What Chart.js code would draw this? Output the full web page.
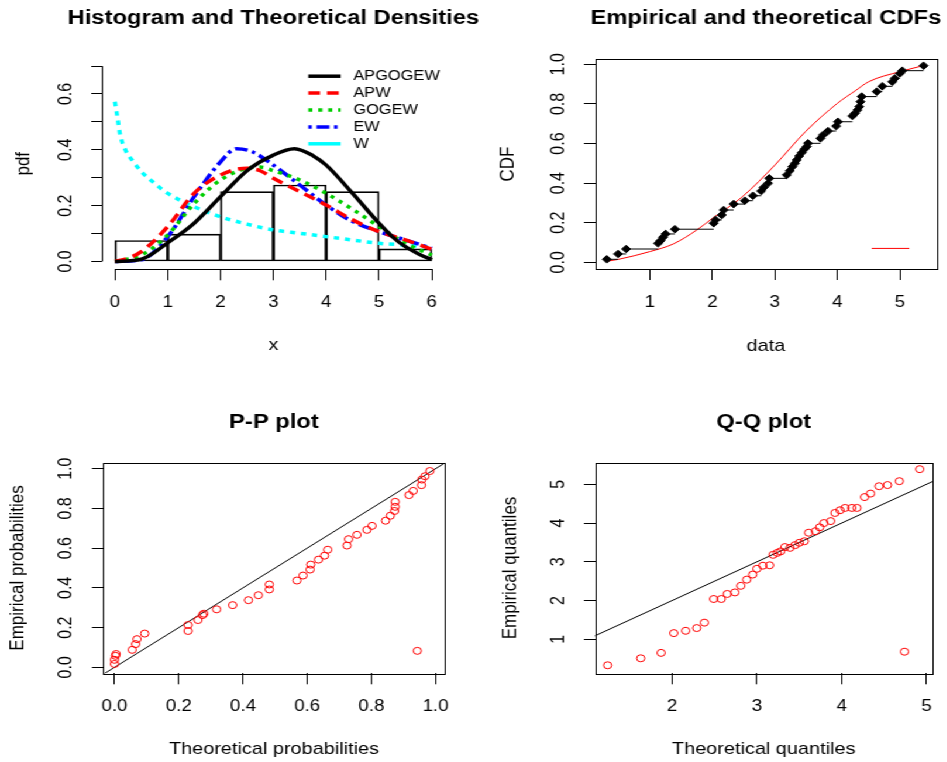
<!DOCTYPE html>
<html>
<head>
<meta charset="utf-8">
<title>Densities, CDFs, P-P and Q-Q plots</title>
<script src="https://cdn.jsdelivr.net/npm/chart.js@4.4.1/dist/chart.umd.min.js"></script>
<style>
  body { margin: 0; background: #fff; overflow: hidden; }
  /* the original R device output is a little wider than tall, so the whole sheet is stretched sideways */
  #page { position: relative; width: 809px; height: 762px; transform: scaleX(1.17); transform-origin: 0 0; }
  canvas { position: absolute; }
</style>
</head>
<body>
<div id="page">
  <canvas id="cdfChart" width="405" height="381" style="left:404px;top:0"></canvas>
  <canvas id="histChart" width="420" height="381" style="left:0;top:0"></canvas>
  <canvas id="ppChart" width="404" height="381" style="left:0;top:381px"></canvas>
  <canvas id="qqChart" width="405" height="381" style="left:404px;top:381px"></canvas>
</div>
<script>
// ---- histogram (density scale, bins of width 1) ----
const histMids = [0.5, 1.5, 2.5, 3.5, 4.5, 5.5];
const histDensity = [0.075, 0.098, 0.25, 0.274, 0.25, 0.045];

// ---- fitted densities ----
const apgogewX = [0, 0.5, 1, 1.5, 2, 2.5, 3, 3.4, 3.75, 4, 4.5, 5, 5.25, 5.5, 5.75, 6];
const apgogewY = [0, 0.008, 0.067, 0.137, 0.232, 0.325, 0.381, 0.404, 0.379, 0.345, 0.244, 0.137, 0.089, 0.053, 0.027, 0.006];
const apwX = [0, 0.25, 0.5, 1, 1.5, 2, 2.5, 2.75, 3, 3.5, 4, 4.5, 5, 5.5, 6];
const apwY = [0, 0.012, 0.035, 0.125, 0.244, 0.31, 0.334, 0.325, 0.298, 0.25, 0.202, 0.149, 0.107, 0.077, 0.044];
const gogewX = [0, 0.5, 1, 1.5, 2, 2.5, 2.75, 3, 3.5, 4, 4.5, 5, 5.5, 6];
const gogewY = [0, 0.023, 0.095, 0.208, 0.292, 0.334, 0.338, 0.325, 0.292, 0.244, 0.187, 0.125, 0.065, 0.023];
const ewX = [0, 0.5, 1, 1.5, 2, 2.3, 2.6, 3, 3.5, 4, 4.5, 5, 5.5, 6];
const ewY = [0, 0.006, 0.089, 0.232, 0.357, 0.404, 0.393, 0.345, 0.274, 0.202, 0.143, 0.107, 0.077, 0.047];
const wX = [0, 0.05, 0.1, 0.2, 0.35, 0.5, 0.75, 1, 1.5, 2, 2.5, 3, 3.5, 4, 4.5, 5, 5.5, 6];
const wY = [0.572, 0.513, 0.453, 0.399, 0.357, 0.322, 0.28, 0.244, 0.196, 0.16, 0.134, 0.113, 0.101, 0.089, 0.077, 0.065, 0.059, 0.051];

// ---- empirical CDF points ----
const cdfX = [0.31, 0.49, 0.62, 1.13, 1.17, 1.21, 1.25, 1.4, 2.02, 2.05, 2.15, 2.18, 2.34, 2.52, 2.65, 2.78, 2.82, 2.89, 2.91,
  3.19, 3.24, 3.28, 3.32, 3.35, 3.39, 3.43, 3.47, 3.51, 3.53, 3.73, 3.77, 3.85, 3.98, 4.01, 4.24, 4.28, 4.32, 4.35, 4.37, 4.39,
  4.63, 4.72, 4.88, 4.92, 5.0, 5.04, 5.38];
const cdfY = [0.015, 0.042, 0.067, 0.096, 0.109, 0.126, 0.143, 0.167, 0.197, 0.214, 0.239, 0.264, 0.294, 0.311, 0.336, 0.36, 0.378, 0.399, 0.424,
  0.441, 0.463, 0.483, 0.5, 0.517, 0.537, 0.554, 0.571, 0.584, 0.601, 0.626, 0.643, 0.663, 0.688, 0.71, 0.739, 0.752, 0.769, 0.786, 0.811, 0.837,
  0.862, 0.889, 0.912, 0.929, 0.954, 0.968, 0.993];
// theoretical CDF (red)
const theoX = [0.33, 0.5, 1, 1.37, 1.75, 2, 2.48, 3, 3.49, 4, 4.29, 4.5, 5, 5.37];
const theoY = [0.006, 0.015, 0.054, 0.092, 0.163, 0.222, 0.331, 0.491, 0.66, 0.803, 0.867, 0.912, 0.963, 0.993];
// short red legend stroke in the lower right corner
const cdfKeyX = [4.55, 5.15];
const cdfKeyY = [0.07, 0.07];

// ---- P-P plot ----
const ppX = [0.0, 0.0, 0.003, 0.005, 0.055, 0.066, 0.07, 0.094, 0.229, 0.229, 0.26, 0.274, 0.278, 0.318, 0.368, 0.417, 0.448, 0.482, 0.482,
  0.568, 0.587, 0.609, 0.611, 0.635, 0.654, 0.664, 0.724, 0.729, 0.755, 0.786, 0.802, 0.844, 0.859, 0.872, 0.874, 0.874, 0.917, 0.93,
  0.956, 0.957, 0.967, 0.982, 0.943];
const ppY = [0.017, 0.038, 0.058, 0.067, 0.088, 0.117, 0.142, 0.17, 0.183, 0.213, 0.238, 0.263, 0.27, 0.292, 0.313, 0.338, 0.363, 0.392, 0.417,
  0.437, 0.462, 0.492, 0.517, 0.542, 0.562, 0.592, 0.613, 0.645, 0.667, 0.692, 0.712, 0.738, 0.763, 0.787, 0.808, 0.833, 0.867, 0.888,
  0.917, 0.945, 0.962, 0.988, 0.083];

// ---- Q-Q plot ----
const qqX = [1.24, 1.63, 1.87, 2.02, 2.16, 2.29, 2.38, 2.49, 2.58, 2.65, 2.74, 2.81, 2.88, 2.95, 3.0, 3.07, 3.15, 3.19, 3.24, 3.28, 3.33,
  3.39, 3.45, 3.5, 3.56, 3.61, 3.69, 3.74, 3.79, 3.87, 3.92, 3.98, 4.04, 4.12, 4.18, 4.27, 4.34, 4.44, 4.54, 4.68, 4.92, 4.74];
const qqY = [0.33, 0.51, 0.65, 1.16, 1.22, 1.29, 1.43, 2.04, 2.04, 2.17, 2.21, 2.38, 2.54, 2.67, 2.82, 2.9, 2.91, 3.18, 3.23, 3.27, 3.38,
  3.36, 3.43, 3.49, 3.53, 3.75, 3.79, 3.89, 4.0, 4.05, 4.26, 4.33, 4.39, 4.39, 4.39, 4.67, 4.76, 4.95, 4.98, 5.08, 5.39, 0.68];
// reference line y = x
const diagPP = [-0.1, 1.1];
const diagQQ = [0, 6];

// ---- tick values and labels ----
const histXTicks = [0, 1, 2, 3, 4, 5, 6];
const histXLabels = ["0", "1", "2", "3", "4", "5", "6"];
const histYTicks = [0, 0.1, 0.2, 0.3, 0.4, 0.5, 0.6, 0.7];
const histYLabels = ["0.0", "", "0.2", "", "0.4", "", "0.6", ""];
const cdfXTicks = [1, 2, 3, 4, 5];
const cdfXLabels = ["1", "2", "3", "4", "5"];
const probTicks = [0, 0.2, 0.4, 0.6, 0.8, 1];
const probLabels = ["0.0", "0.2", "0.4", "0.6", "0.8", "1.0"];
const qqXTicks = [2, 3, 4, 5];
const qqXLabels = ["2", "3", "4", "5"];
const qqYTicks = [1, 2, 3, 4, 5];
const qqYLabels = ["1", "2", "3", "4", "5"];

Chart.defaults.font.family = "'Liberation Sans', Arial, sans-serif";
Chart.defaults.color = "#000";
Chart.defaults.animation = false;

const pts = (xs, ys) => xs.map((x, i) => ({ x: x, y: ys[i] }));

// R style axis: ticks outside, rotated labels on the y side
function axis(o) {
  const horiz = o.dir === "x";
  return {
    type: "linear",
    min: o.min,
    max: o.max,
    offset: false,
    afterBuildTicks: (s) => { s.ticks = o.ticks.map((v) => ({ value: v })); },
    afterFit: (s) => { if (horiz) s.height = o.size; else s.width = o.size; },
    border: { display: false },
    grid: { drawOnChartArea: false, drawTicks: true, tickLength: horiz ? 11 : 9.4, color: "#000", tickColor: "#000", tickWidth: 1, offset: false },
    ticks: {
      autoSkip: false,
      minRotation: horiz ? 0 : 90,
      maxRotation: horiz ? 0 : 90,
      crossAlign: horiz ? "near" : "center",
      padding: o.tickPad,
      font: { size: 16 },
      callback: (v, i) => o.labels[i],
    },
    title: {
      display: true,
      text: o.title,
      font: { size: 17 },
      padding: horiz ? { top: 0, bottom: o.titlePad } : { top: o.titlePad, bottom: 0 },
    },
  };
}

// main title centred over the plot region, allowed to run wider than it (like R's title())
const mainTitle = {
  id: "mainTitle",
  afterDraw(chart, args, opts) {
    const { ctx, chartArea: a } = chart;
    ctx.save();
    ctx.font = "bold 20.3px 'Liberation Sans', Arial, sans-serif";
    ctx.fillStyle = "#000";
    ctx.textAlign = "center";
    ctx.textBaseline = "middle";
    ctx.fillText(opts.text, (a.left + a.right) / 2, opts.y);
    ctx.restore();
  },
};

// box around the plot region
const boxPlugin = {
  id: "box",
  afterDraw(chart) {
    const a = chart.chartArea;
    const ctx = chart.ctx;
    ctx.save();
    ctx.strokeStyle = "#000";
    ctx.lineWidth = 1;
    ctx.strokeRect(Math.round(a.left) + 0.5, Math.round(a.top) + 0.5, Math.round(a.right - a.left), Math.round(a.bottom - a.top));
    ctx.restore();
  },
};

// histogram panel has only axis lines spanning the tick range
const axisLines = {
  id: "axisLines",
  afterDraw(chart) {
    const { ctx, chartArea: a, scales } = chart;
    const x = scales.x, y = scales.y;
    const xl = x.ticks[0].value, xr = x.ticks[x.ticks.length - 1].value;
    const yb = y.ticks[0].value, yt = y.ticks[y.ticks.length - 1].value;
    ctx.save();
    ctx.strokeStyle = "#000";
    ctx.lineWidth = 1;
    ctx.beginPath();
    ctx.moveTo(x.getPixelForValue(xl), Math.round(a.bottom) + 0.5);
    ctx.lineTo(x.getPixelForValue(xr), Math.round(a.bottom) + 0.5);
    ctx.moveTo(Math.round(a.left) + 0.5, y.getPixelForValue(yb));
    ctx.lineTo(Math.round(a.left) + 0.5, y.getPixelForValue(yt));
    ctx.stroke();
    ctx.restore();
  },
};

// legend drawn inside the plot, top right
const densityLegend = {
  id: "densityLegend",
  afterDraw(chart) {
    const { ctx, chartArea: a } = chart;
    const curves = chart.data.datasets.filter((d) => d.type !== "bar");
    ctx.save();
    ctx.font = "14px 'Liberation Sans', Arial, sans-serif";
    ctx.textBaseline = "middle";
    ctx.fillStyle = "#000";
    curves.forEach((d, i) => {
      const yy = a.top + 18 + i * 16.9;
      ctx.strokeStyle = d.borderColor;
      ctx.lineWidth = 3.5;
      ctx.setLineDash(d.keyDash || d.borderDash || []);
      ctx.beginPath();
      ctx.moveTo(a.right - 116.4, yy);
      ctx.lineTo(a.right - 88.7, yy);
      ctx.stroke();
      ctx.fillText(d.label, a.right - 77.9, yy);
    });
    ctx.restore();
  },
};

function curve(label, xs, ys, color, dash, keyDash) {
  return {
    type: "line",
    label: label,
    data: pts(xs, ys),
    borderColor: color,
    borderWidth: 3.5,
    borderDash: dash,
    keyDash: keyDash,
    pointRadius: 0,
    cubicInterpolationMode: "monotone",
    fill: false,
    order: 0,
  };
}

// Histogram and densities
new Chart(document.getElementById("histChart"), {
  type: "line",
  data: {
    datasets: [
      curve("APGOGEW", apgogewX, apgogewY, "#000000", []),
      curve("APW", apwX, apwY, "#ff0000", [10, 6]),
      curve("GOGEW", gogewX, gogewY, "#00cd00", [3.5, 5]),
      curve("EW", ewX, ewY, "#0000ff", [3, 4, 11, 4]),
      curve("W", wX, wY, "#00ffff", [4.5, 5], []),
      {
        type: "bar",
        label: "hist",
        data: pts(histMids, histDensity),
        backgroundColor: "rgba(255,255,255,0)",
        borderColor: "#000",
        borderWidth: 1,
        borderSkipped: false,
        barPercentage: 1,
        categoryPercentage: 1,
        order: 5,
      },
    ],
  },
  options: {
    responsive: false,
    layout: { padding: { left: 0, right: 40.1, top: 58.2, bottom: 0 } },
    plugins: {
      legend: { display: false },
      tooltip: { enabled: false },
      mainTitle: { text: "Histogram and Theoretical Densities", y: 18 },
    },
    scales: {
      x: axis({ dir: "x", min: -0.24, max: 6.24, ticks: histXTicks, labels: histXLabels, size: 111.7, tickPad: 12.5, title: "x", titlePad: 25.8 }),
      y: axis({ dir: "y", min: -0.028, max: 0.728, ticks: histYTicks, labels: histYLabels, size: 87.4, tickPad: 9.9, title: "pdf", titlePad: 9.7 }),
    },
  },
  plugins: [axisLines, densityLegend, mainTitle],
});

// Empirical and theoretical CDFs
const steps = [];
for (let i = 0; i < cdfX.length - 1; i++) {
  steps.push({ x: cdfX[i], y: cdfY[i] }, { x: cdfX[i + 1], y: cdfY[i] }, { x: cdfX[i + 1], y: null });
}
new Chart(document.getElementById("cdfChart"), {
  type: "line",
  data: {
    datasets: [
      {
        label: "empirical",
        data: pts(cdfX, cdfY),
        showLine: false,
        pointStyle: "rectRot",
        pointRadius: 3.8,
        pointBackgroundColor: "#000",
        pointBorderColor: "#000",
        pointBorderWidth: 1,
        order: 0,
      },
      { label: "steps", data: steps, borderColor: "#000", borderWidth: 1, pointRadius: 0, spanGaps: false, order: 1 },
      { label: "theoretical", data: pts(theoX, theoY), borderColor: "#ff0000", borderWidth: 1, pointRadius: 0, cubicInterpolationMode: "monotone", order: 2 },
      { label: "key", data: pts(cdfKeyX, cdfKeyY), borderColor: "#ff0000", borderWidth: 1, pointRadius: 0, order: 2 },
    ],
  },
  options: {
    responsive: false,
    layout: { padding: { left: 0, right: 8.4, top: 59, bottom: 0 } },
    plugins: {
      legend: { display: false },
      tooltip: { enabled: false },
      mainTitle: { text: "Empirical and theoretical CDFs", y: 18 },
    },
    scales: {
      x: axis({ dir: "x", min: 0.12, max: 5.59, ticks: cdfXTicks, labels: cdfXLabels, size: 112, tickPad: 12.5, title: "data", titlePad: 24.8 }),
      y: axis({ dir: "y", min: -0.034, max: 1.027, ticks: probTicks, labels: probLabels, size: 104.5, tickPad: 10.8, title: "CDF", titlePad: 20.2 }),
    },
  },
  plugins: [boxPlugin, mainTitle],
});

// P-P plot
new Chart(document.getElementById("ppChart"), {
  type: "line",
  data: {
    datasets: [
      {
        label: "points",
        data: pts(ppX, ppY),
        showLine: false,
        pointStyle: "circle",
        pointRadius: 3.5,
        pointBackgroundColor: "rgba(0,0,0,0)",
        pointBorderColor: "#ff0000",
        pointBorderWidth: 1,
      },
      { label: "diagonal", data: pts(diagPP, diagPP), borderColor: "#000", borderWidth: 1, pointRadius: 0 },
    ],
  },
  options: {
    responsive: false,
    layout: { padding: { left: 0, right: 23.7, top: 81.7, bottom: 0 } },
    plugins: {
      legend: { display: false },
      tooltip: { enabled: false },
      mainTitle: { text: "P-P plot", y: 41 },
    },
    scales: {
      x: axis({ dir: "x", min: -0.036, max: 1.029, ticks: probTicks, labels: probLabels, size: 88.7, tickPad: 12.5, title: "Theoretical probabilities", titlePad: 2.8 }),
      y: axis({ dir: "y", min: -0.03, max: 1.03, ticks: probTicks, labels: probLabels, size: 88, tickPad: 10.5, title: "Empirical probabilities", titlePad: 5.4 }),
    },
  },
  plugins: [boxPlugin, mainTitle],
});

// Q-Q plot
new Chart(document.getElementById("qqChart"), {
  type: "line",
  data: {
    datasets: [
      {
        label: "points",
        data: pts(qqX, qqY),
        showLine: false,
        pointStyle: "circle",
        pointRadius: 3.5,
        pointBackgroundColor: "rgba(0,0,0,0)",
        pointBorderColor: "#ff0000",
        pointBorderWidth: 1,
      },
      { label: "diagonal", data: pts(diagQQ, diagQQ), borderColor: "#000", borderWidth: 1, pointRadius: 0 },
    ],
  },
  options: {
    responsive: false,
    layout: { padding: { left: 0, right: 8.4, top: 81.7, bottom: 0 } },
    plugins: {
      legend: { display: false },
      tooltip: { enabled: false },
      mainTitle: { text: "Q-Q plot", y: 41 },
    },
    scales: {
      x: axis({ dir: "x", min: 1.09, max: 5.07, ticks: qqXTicks, labels: qqXLabels, size: 88.7, tickPad: 12.5, title: "Theoretical quantiles", titlePad: 2.8 }),
      y: axis({ dir: "y", min: 0.123, max: 5.557, ticks: qqYTicks, labels: qqYLabels, size: 104.5, tickPad: 17.5, title: "Empirical quantiles", titlePad: 21.7 }),
    },
  },
  plugins: [boxPlugin, mainTitle],
});
</script>
</body>
</html>
